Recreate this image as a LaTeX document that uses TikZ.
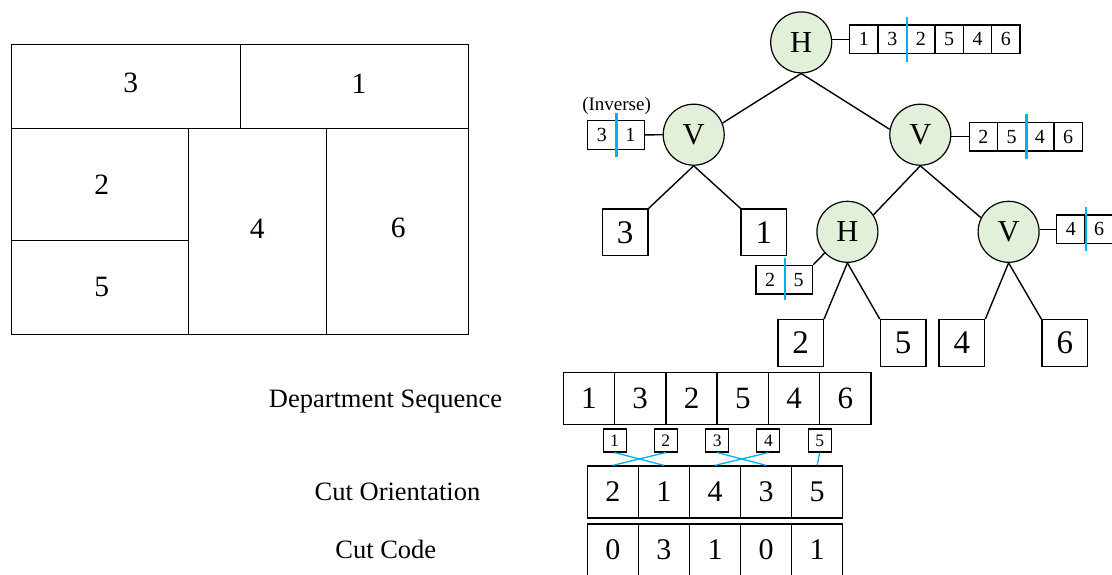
\documentclass[tikz,border=0pt]{standalone}
\usepackage{fontspec}
\setmainfont{Liberation Serif}
\definecolor{nodegreen}{HTML}{E2EFD9}
\definecolor{cutblue}{HTML}{00B0F0}
\begin{document}
\begin{tikzpicture}[x=1pt,y=-1pt,
  plan/.style={line width=1pt},
  deptno/.style={inner sep=0, font=\fontsize{29.5}{29.5}\selectfont},
  tree/.style={line width=1.4pt},
  ring/.style={circle, draw, line width=1.2pt, fill=nodegreen, minimum size=61, inner sep=0, font=\fontsize{30.5}{30.5}\selectfont},
  leaf/.style={draw, line width=1.4pt, minimum width=45.5, minimum height=46.5, inner sep=0, font=\fontsize{33}{33}\selectfont},
  mini/.style={draw, line width=1.3pt, minimum width=28.3, minimum height=28.6, inner sep=0, font=\fontsize{20}{20}\selectfont},
  cut/.style={cutblue, line width=2.4pt},
  seqcell/.style={draw, line width=1.3pt, minimum width=51.3, minimum height=51.6, inner sep=0, font=\fontsize{31}{31}\selectfont},
  ocell/.style={draw, line width=1.3pt, minimum width=51.1, minimum height=52, inner sep=0, font=\fontsize{30}{30}\selectfont},
  idx/.style={draw, line width=1.1pt, minimum size=23, inner sep=0, font=\fontsize{17.5}{17.5}\selectfont},
  link/.style={cutblue, line width=1.3pt},
  caption/.style={anchor=base, inner sep=0, font=\fontsize{26.5}{26.5}\selectfont}]

\clip (0,0) rectangle (1112,574);

% ---------- floor plan ----------
\draw[plan] (11,44) rectangle (468,334);
\draw[plan] (11,128) -- (468,128);
\draw[plan] (240,44) -- (240,128);
\draw[plan] (188.3,128) -- (188.3,334);
\draw[plan] (326,128) -- (326,334);
\draw[plan] (11,240.7) -- (188.3,240.7);
\node[deptno] (p3) at (130.7,83.3) {3};
\node[deptno] (p1) at (359,83.3) {1};
\node[deptno] (p2) at (101.7,185) {2};
\node[deptno] (p5) at (101.7,286.7) {5};
\node[deptno] (p4) at (257.3,228.3) {4};
\node[deptno] (p6) at (398.3,228.3) {6};

% ---------- slicing tree ----------
\node[ring] (root) at (801.2,42.4) {H};
\node[ring] (lv) at (693.7,134.7) {V};
\node[ring] (rv) at (920.3,134.7) {V};
\node[ring] (mh) at (847.4,231.8) {H};
\node[ring] (lowv) at (1008.6,231.8) {V};

\node[leaf] (b3) at (625.2,232.3) {3};
\node[leaf] (b1) at (763.9,232.3) {1};
\node[leaf] (b2) at (800.6,343) {2};
\node[leaf] (b5) at (903.2,343) {5};
\node[leaf] (b4) at (961.9,343) {4};
\node[leaf] (b6) at (1064.8,343) {6};

\draw[tree] (root.south) -- (lv.22);
\draw[tree] (root.south) -- (rv.170);
\draw[tree] (lv.south) -- (b3.north east);
\draw[tree] (lv.south) -- (b1.north west);
\draw[tree] (rv.south) -- (mh.33);
\draw[tree] (rv.south) -- (lowv.153);
\draw[tree] (mh.south) -- (b2.north east);
\draw[tree] (mh.south) -- (b5.north west);
\draw[tree] (lowv.south) -- (b4.north east);
\draw[tree] (lowv.south) -- (b6.north west);

% sub-sequences held by the cut nodes
\foreach \v [count=\i] in {1,3,2,5,4,6}
  \node[mini] (rs\i) at ({849.8+28.38*(\i-0.5)},39.2) {\v};
\draw[cut] ([yshift=7.2pt]rs2.north east) -- ([yshift=-7.5pt]rs2.south east);
\draw[tree] (root.east |- rs1.west) -- (rs1.west);

\foreach \v [count=\i] in {3,1}
  \node[mini] (ls\i) at ({587.5+28.5*(\i-0.5)},134.9) {\v};
\draw[cut] ([yshift=7.2pt]ls1.north east) -- ([yshift=-7.5pt]ls1.south east);
\draw[tree] (ls2.east) -- (lv.west);
\node[inner sep=0, font=\fontsize{19}{19}\selectfont] (inv) at (616.6,105.5) {(Inverse)};

\foreach \v [count=\i] in {2,5,4,6}
  \node[mini] (qs\i) at ({969.2+28.25*(\i-0.5)},136.6) {\v};
\draw[cut] ([yshift=7.2pt]qs2.north east) -- ([yshift=-7.5pt]qs2.south east);
\draw[tree] (rv.east |- qs1.west) -- (qs1.west);

\foreach \v [count=\i] in {2,5}
  \node[mini] (ms\i) at ({755.8+28.5*(\i-0.5)},279.6) {\v};
\draw[cut] ([yshift=6.2pt]ms1.north east) -- ([yshift=-5.4pt]ms1.south east);
\draw[tree] (ms2.north east) -- (mh.223);

\foreach \v [count=\i] in {4,6}
  \node[mini] (ns\i) at ({1056.8+28.2*(\i-0.5)},229.4) {\v};
\draw[cut] ([yshift=7.2pt]ns1.north east) -- ([yshift=-6.5pt]ns1.south east);
\draw[tree] (lowv.east |- ns1.west) -- (ns1.west);

% ---------- encoding ----------
\node[caption] (capds) at (385.5,407.3) {Department Sequence};
\node[caption] (capco) at (397.5,500) {Cut Orientation};
\node[caption] (capcc) at (385.8,558.3) {Cut Code};

\foreach \v [count=\i] in {1,3,2,5,4,6}
  \node[seqcell] (ds\i) at ({563.3+51.28*(\i-0.5)},398.5) {\v};
\foreach \i in {1,...,5}
  \node[idx] (ix\i) at ({563.3+51.28*\i},440.5) {\i};
\foreach \v [count=\i] in {2,1,4,3,5}
  \node[ocell] (co\i) at ({587.3+51.08*(\i-0.5)},492) {\v};
\foreach \v [count=\i] in {0,3,1,0,1}
  \node[ocell] (cc\i) at ({587.3+51.08*(\i-0.5)},550) {\v};

\draw[link] (ix1.south) -- (co2.north);
\draw[link] (ix2.south) -- (co1.north);
\draw[link] (ix3.south) -- (co4.north);
\draw[link] (ix4.south) -- (co3.north);
\draw[link] (ix5.south) -- (co5.north);
\end{tikzpicture}
\end{document}
